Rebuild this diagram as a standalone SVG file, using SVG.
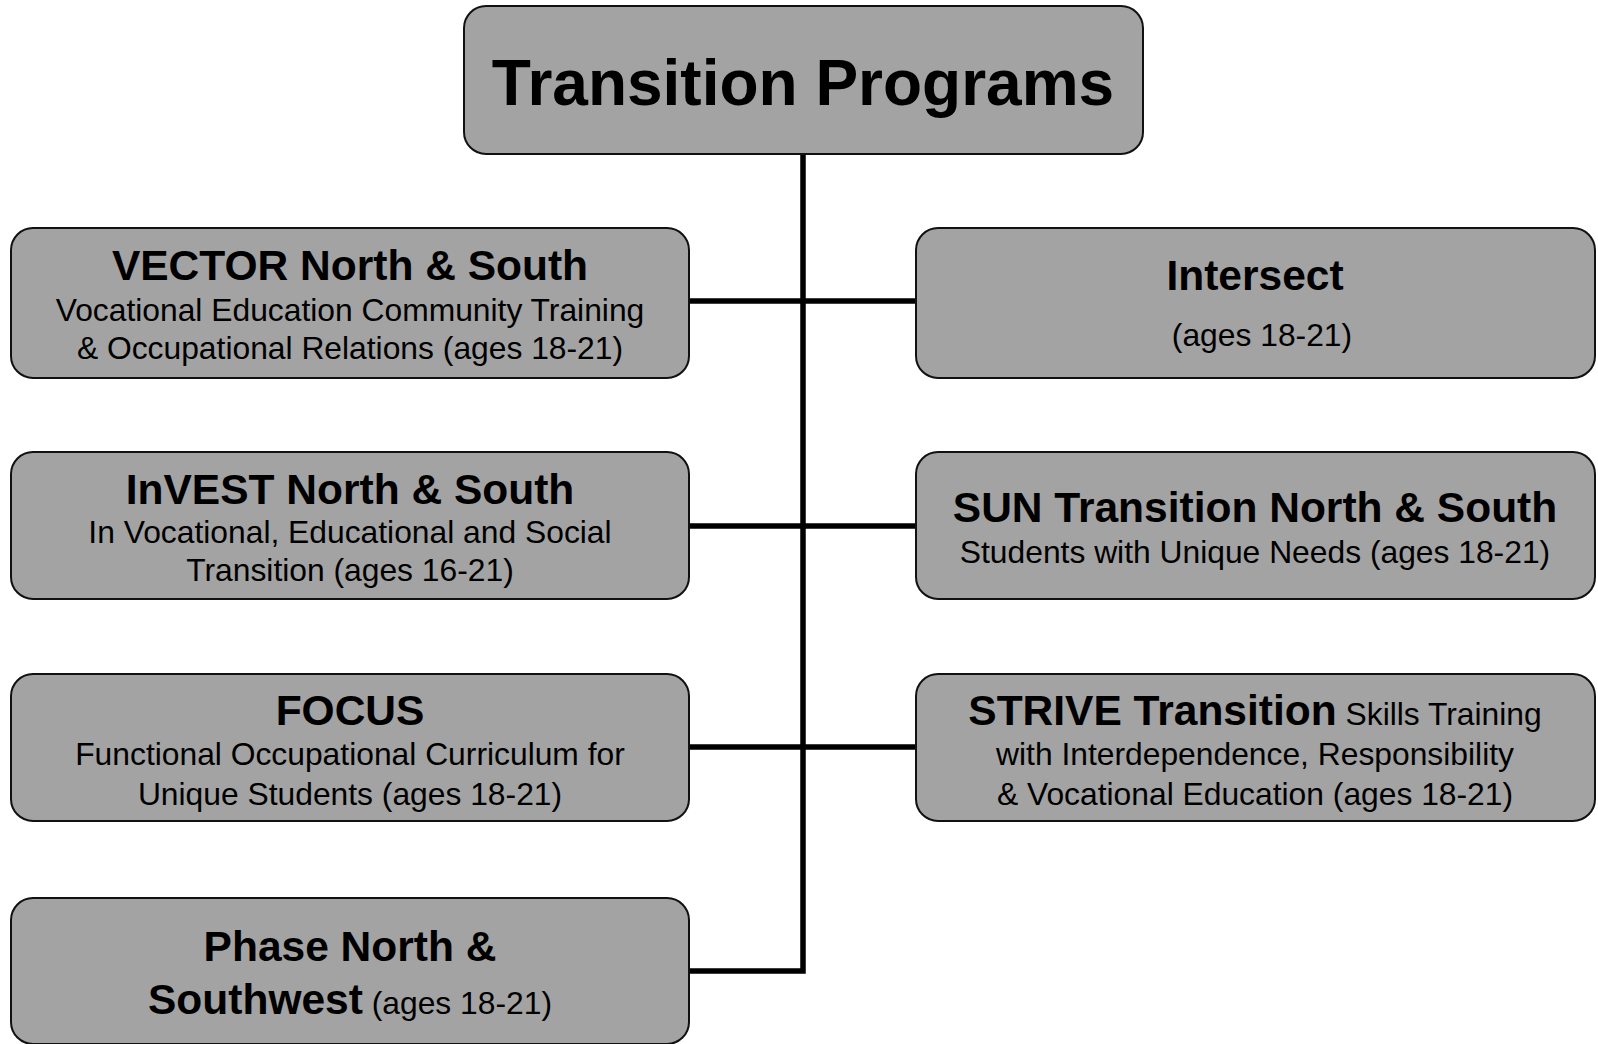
<svg xmlns="http://www.w3.org/2000/svg" width="1598" height="1044" viewBox="0 0 1598 1044">
<style>
.box{fill:#a3a3a3;stroke:#111;stroke-width:2}
.t{font-family:"Liberation Sans",Arial,sans-serif;fill:#000;text-anchor:middle}
.h{font-weight:bold;font-size:42.5px}
.s{font-size:31.8px}
.c{fill:none;stroke:#000;stroke-width:5.5;stroke-linejoin:miter}
</style>
<rect width="1598" height="1044" fill="#fff"/>
<g id="connectors">
<path class="c" d="M803 154 V971 H689"/>
<path class="c" d="M689 301 H916"/>
<path class="c" d="M689 526 H916"/>
<path class="c" d="M689 747 H916"/>
</g>
<g id="root">
<rect class="box" x="464" y="6" width="679" height="148" rx="22"/>
<text class="t" x="803" y="105" font-weight="bold" font-size="64">Transition Programs</text>
</g>
<g id="vector">
<rect class="box" x="11" y="228" width="678" height="150" rx="22"/>
<text class="t h" x="350" y="280">VECTOR North &amp; South</text>
<text class="t s" x="350" y="321">Vocational Education Community Training</text>
<text class="t s" x="350" y="359">&amp; Occupational Relations (ages 18-21)</text>
</g>
<g id="intersect">
<rect class="box" x="916" y="228" width="679" height="150" rx="22"/>
<text class="t h" x="1255" y="290">Intersect</text>
<text class="t s" x="1262" y="346">(ages 18-21)</text>
</g>
<g id="invest">
<rect class="box" x="11" y="452" width="678" height="147" rx="22"/>
<text class="t h" x="350" y="504">InVEST North &amp; South</text>
<text class="t s" x="350" y="543">In Vocational, Educational and Social</text>
<text class="t s" x="350" y="581">Transition (ages 16-21)</text>
</g>
<g id="sun">
<rect class="box" x="916" y="452" width="679" height="147" rx="22"/>
<text class="t h" x="1255" y="522">SUN Transition North &amp; South</text>
<text class="t s" x="1255" y="563">Students with Unique Needs (ages 18-21)</text>
</g>
<g id="focus">
<rect class="box" x="11" y="674" width="678" height="147" rx="22"/>
<text class="t h" x="350" y="725">FOCUS</text>
<text class="t s" x="350" y="765">Functional Occupational Curriculum for</text>
<text class="t s" x="350" y="805">Unique Students (ages 18-21)</text>
</g>
<g id="strive">
<rect class="box" x="916" y="674" width="679" height="147" rx="22"/>
<text class="t" x="1255" y="725"><tspan class="h">STRIVE Transition</tspan><tspan class="s"> Skills Training</tspan></text>
<text class="t s" x="1255" y="765">with Interdependence, Responsibility</text>
<text class="t s" x="1255" y="805">&amp; Vocational Education (ages 18-21)</text>
</g>
<g id="phase">
<rect class="box" x="11" y="898" width="678" height="146" rx="22"/>
<text class="t h" x="350" y="961">Phase North &amp;</text>
<text class="t" x="350" y="1014"><tspan class="h">Southwest</tspan><tspan class="s"> (ages 18-21)</tspan></text>
</g>
</svg>
